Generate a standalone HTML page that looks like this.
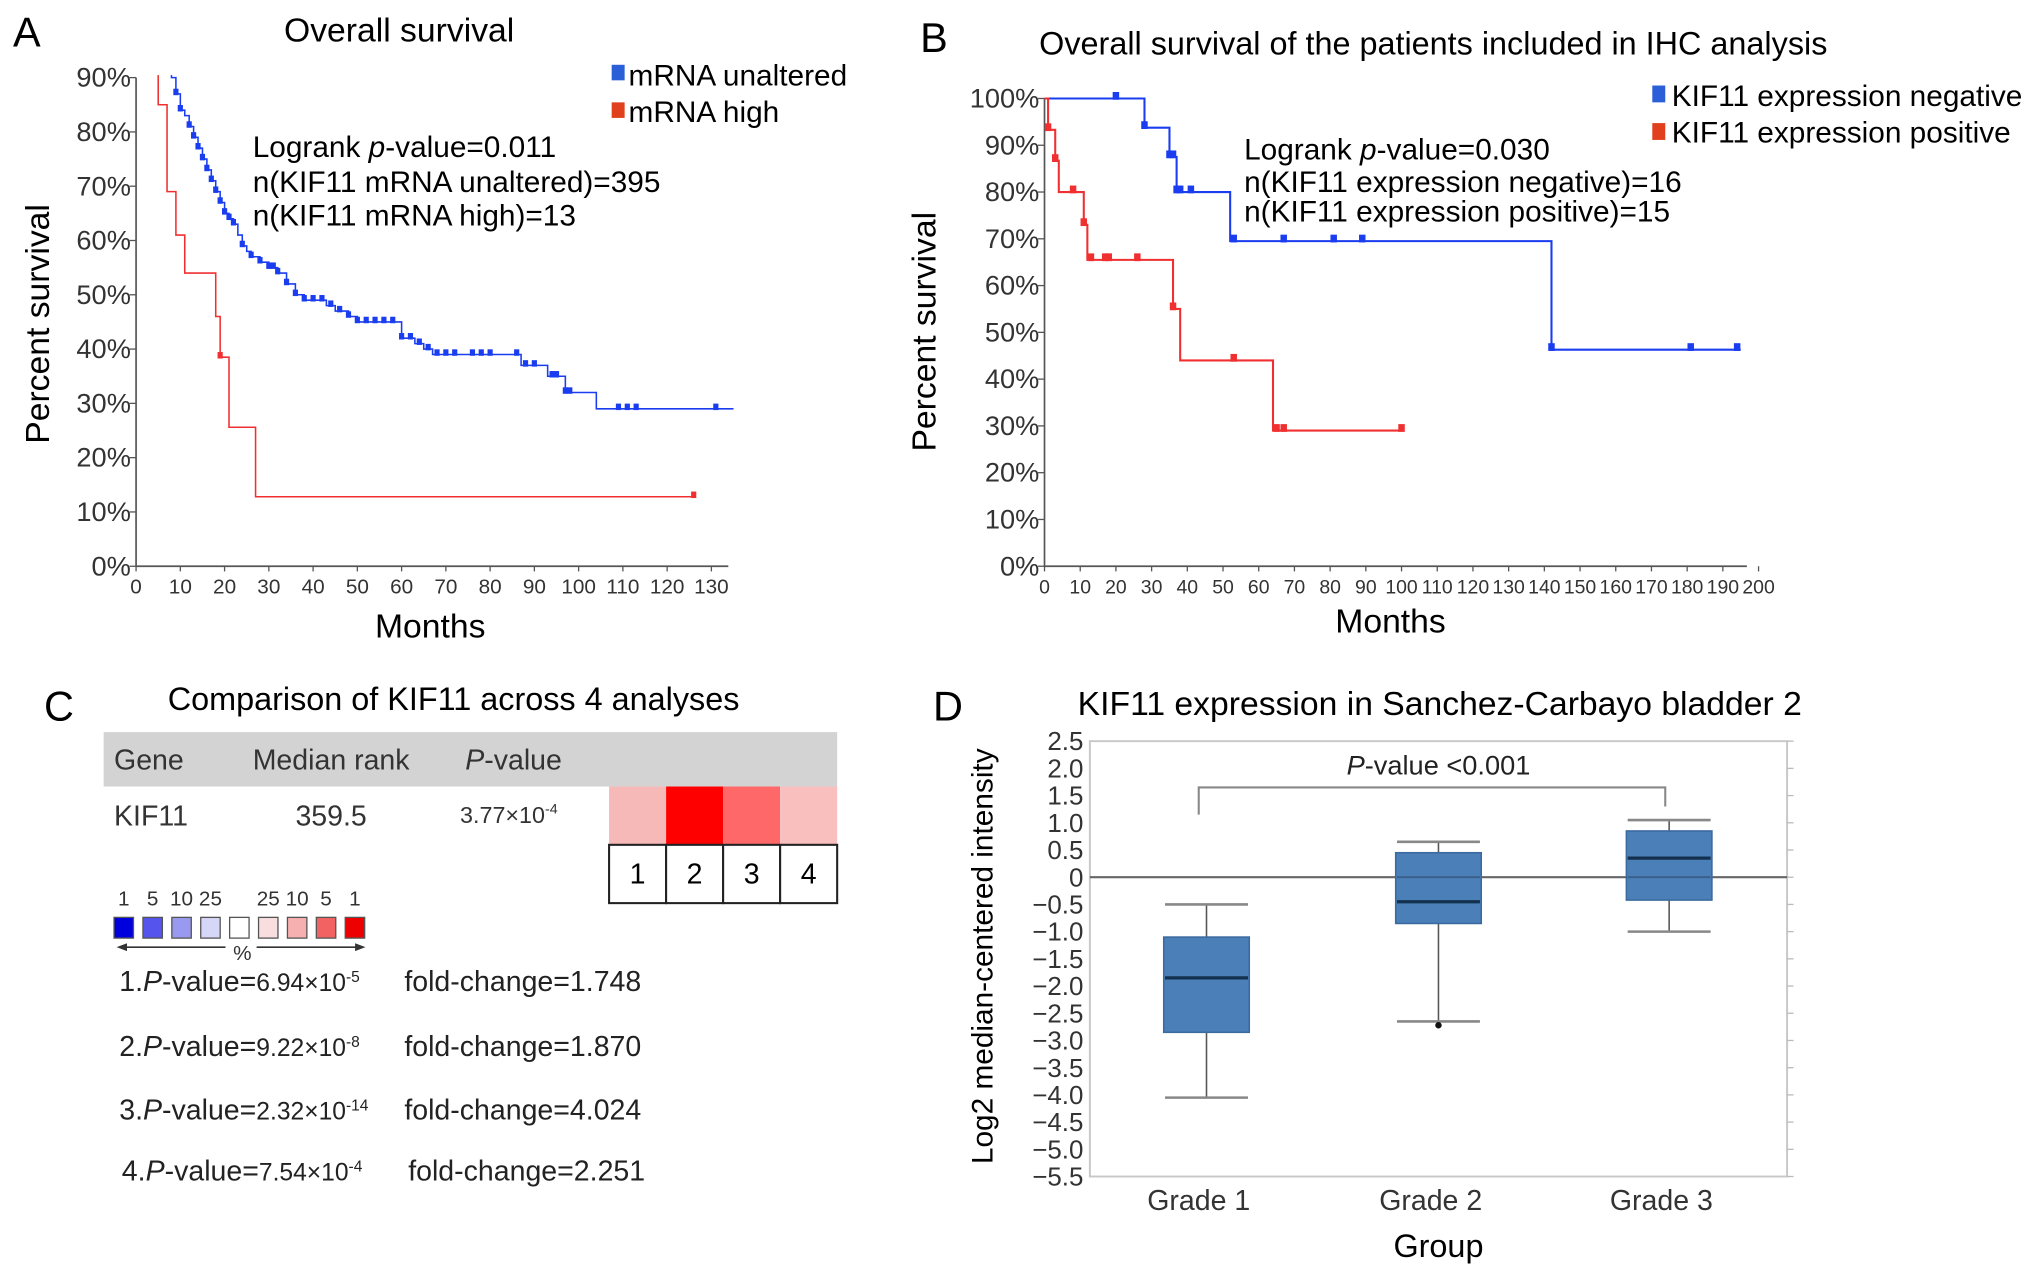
<!DOCTYPE html>
<html><head><meta charset="utf-8"><style>
html,body{margin:0;padding:0;background:#fff;}
svg{display:block;font-family:"Liberation Sans",Arial,sans-serif;}
</style></head><body>
<svg id="fig" width="2032" height="1275" viewBox="0 0 1568 984" preserveAspectRatio="none" xmlns="http://www.w3.org/2000/svg">
<defs><clipPath id="clipA"><rect x="100" y="58" width="470" height="390"/></clipPath></defs>
<rect width="1568" height="984" fill="#fff"/>
<!-- Panel A static text -->
<text x="10" y="36" font-size="32">A</text>
<text x="308" y="32" font-size="26" text-anchor="middle">Overall survival</text>
<rect x="472" y="50" width="10" height="12" fill="#2a5fd8"/>
<text x="485" y="66" font-size="23">mRNA unaltered</text>
<rect x="472" y="79" width="10" height="12" fill="#e0401c"/>
<text x="485" y="94" font-size="23">mRNA high</text>
<g font-size="23">
<text x="195" y="121">Logrank <tspan font-style="italic">p</tspan>-value=0.011</text>
<text x="195" y="148">n(KIF11 mRNA unaltered)=395</text>
<text x="195" y="174">n(KIF11 mRNA high)=13</text>
</g>
<text x="38" y="250" font-size="26" text-anchor="middle" transform="rotate(-90 38 250)">Percent survival</text>
<text x="332" y="492" font-size="26" text-anchor="middle">Months</text>
<g id="ga"></g>

<!-- Panel B static -->
<text x="710" y="40" font-size="32">B</text>
<text x="1106" y="42" font-size="25" text-anchor="middle">Overall survival of the patients included in IHC analysis</text>
<rect x="1275" y="66" width="10" height="13" fill="#2a5fd8"/>
<text x="1290" y="82" font-size="23">KIF11 expression negative</text>
<rect x="1275" y="95" width="10" height="13" fill="#e0401c"/>
<text x="1290" y="110" font-size="23">KIF11 expression positive</text>
<g font-size="23">
<text x="960" y="123">Logrank <tspan font-style="italic">p</tspan>-value=0.030</text>
<text x="960" y="148">n(KIF11 expression negative)=16</text>
<text x="960" y="171">n(KIF11 expression positive)=15</text>
</g>
<text x="722" y="256" font-size="26" text-anchor="middle" transform="rotate(-90 722 256)">Percent survival</text>
<text x="1073" y="488" font-size="26" text-anchor="middle">Months</text>
<g id="gb"></g>

<!-- Panel C -->
<text x="34" y="556" font-size="32">C</text>
<text x="350" y="548" font-size="25" text-anchor="middle">Comparison of KIF11 across 4 analyses</text>
<rect x="80" y="565" width="566" height="42" fill="#d3d3d3"/>
<g font-size="22" fill="#333">
<text x="88" y="594">Gene</text>
<text x="195" y="594">Median rank</text>
<text x="359" y="594"><tspan font-style="italic">P</tspan>-value</text>
<text x="88" y="637">KIF11</text>
<text x="228" y="637">359.5</text>
<text x="355" y="635" font-size="18">3.77×10<tspan dy="-7" font-size="11">-4</tspan></text>
</g>
<g id="gc"></g>
<g font-size="22" fill="#222">
<text x="92" y="765">1.<tspan font-style="italic">P</tspan>-value=<tspan font-size="19">6.94×10</tspan><tspan dy="-7" font-size="12">-5</tspan><tspan dy="7" x="312">fold-change=1.748</tspan></text>
<text x="92" y="815">2.<tspan font-style="italic">P</tspan>-value=<tspan font-size="19">9.22×10</tspan><tspan dy="-7" font-size="12">-8</tspan><tspan dy="7" x="312">fold-change=1.870</tspan></text>
<text x="92" y="864">3.<tspan font-style="italic">P</tspan>-value=<tspan font-size="19">2.32×10</tspan><tspan dy="-7" font-size="12">-14</tspan><tspan dy="7" x="312">fold-change=4.024</tspan></text>
<text x="94" y="911">4.<tspan font-style="italic">P</tspan>-value=<tspan font-size="19">7.54×10</tspan><tspan dy="-7" font-size="12">-4</tspan><tspan dy="7" x="315">fold-change=2.251</tspan></text>
</g>

<!-- Panel D -->
<text x="720" y="556" font-size="32">D</text>
<text x="1111" y="552" font-size="26" text-anchor="middle">KIF11 expression in Sanchez-Carbayo bladder 2</text>
<text x="766" y="738" font-size="23" text-anchor="middle" transform="rotate(-90 766 738)">Log2 median-centered intensity</text>
<text x="1110" y="970" font-size="25" text-anchor="middle">Group</text>
<g id="gd"></g>
</svg>
<script>
var NS="http://www.w3.org/2000/svg";
function mk(parent,tag,attrs){var e=document.createElementNS(NS,tag);for(var k in attrs)e.setAttribute(k,attrs[k]);parent.appendChild(e);return e;}

// ---------- Panel A data ----------
var aTicksY=[0,10,20,30,40,50,60,70,80,90];
var aTicksX=[0,10,20,30,40,50,60,70,80,90,100,110,120,130];
var aBlueT=[8,9,10,11,12,13,14,15,16,17,18,19,20,21,22,23,24,25,26,28,30,32,34,36,38,40,43,45,48,50,55,60,63,65,67,86,87,92,93,95,97,104,135];
var aBlueS=[90,87,84,83,81,79,77,75,73,71,69,67,65,64,63,61,59,58,57,56,55,54,52,50,49,49,48,47,46,45,45,42,41,40,39,39,37,37,35,35,32,29,29];
var aBlueCT=[9,10,12,13,14,15,16,17,18,19,20,21,22,24,26,28,30,31,32,34,36,38,40,42,44,46,48,50,52,54,56,58,60,62,64,66,68,70,72,76,78,80,86,88,90,94,95,97,98,109,111,113,131];
var aRedT=[5,7,9,11,18,19,21,27,126];
var aRedS=[85,69,61,54,46,38.5,25.6,12.8,12.8];
var aRedCT=[19,126];

// ---------- Panel B data ----------
var bTicksY=[0,10,20,30,40,50,60,70,80,90,100];
var bTicksX=[0,10,20,30,40,50,60,70,80,90,100,110,120,130,140,150,160,170,180,190,200];
var bBlueT=[0,28,35,37,52,142,195];
var bBlueS=[100,93.75,87.5,80,69.5,46.3,46.3];
var bBlueCT=[20,28,35,36,37,38,41,53,67,81,89,142,181,194];
var bRedT=[0,1,3,4,11,12,36,38,64,100];
var bRedS=[100,93.3,86.7,80,73,65.5,55,44,29,29];
var bRedCT=[1,3,8,11,13,17,18,26,36,53,65,67,100];

// ---------- Panel C data ----------
var cHeatLabels=["1","2","3","4"];
var cHeatColors=["#f7b8b8","#ff0000","#ff6868","#f9bfbf"];
var cLegendLabels=["1","5","10","25","","25","10","5","1"];
var cLegendColors=["#0000dd","#5555ee","#9999f0","#d6d6f8","#ffffff","#f8dede","#f7b0b0","#f26262","#ee0000"];

// ---------- Panel D data ----------
var dGroups=["Grade 1","Grade 2","Grade 3"];
var dMax=[-0.5,0.65,1.05];
var dQ3=[-1.1,0.45,0.85];
var dMed=[-1.85,-0.45,0.35];
var dQ1=[-2.85,-0.85,-0.42];
var dMin=[-4.05,-2.65,-1.0];
var dTicks=[2.5,2.0,1.5,1.0,0.5,0,-0.5,-1.0,-1.5,-2.0,-2.5,-3.0,-3.5,-4.0,-4.5,-5.0,-5.5];

function kmPanel(g,cfg){
  var X=function(t){return cfg.x0+t*cfg.xs;}, Y=function(s){return cfg.y0-s*cfg.ys;};
  var ax=mk(g,'path',{d:'M'+cfg.x0+' '+Y(cfg.ymax)+' V'+cfg.y0+' H'+cfg.xend,stroke:'#555','stroke-width':1.3,fill:'none'});
  
  
  cfg.ty.forEach(function(v){
    mk(g,'line',{x1:cfg.x0-5,x2:cfg.x0,y1:Y(v),y2:Y(v),stroke:'#555'});
    var t=mk(g,'text',{x:cfg.x0-4,y:Y(v)+7,'font-size':cfg.fy,'text-anchor':'end',fill:'#333'});
    t.textContent=v+'%';
    
    
  });
  cfg.tx.forEach(function(v){
    mk(g,'line',{x1:X(v),x2:X(v),y1:cfg.y0,y2:cfg.y0+4,stroke:'#555'});
    var t=mk(g,'text',{x:X(v),y:cfg.y0+21,'font-size':cfg.fx,'text-anchor':'middle',fill:'#333'});
    t.textContent=v;
    
    
  });
  var sg=mk(g,'g',{});
  if(cfg.clip) sg.setAttribute('clip-path','url(#'+cfg.clip+')');
  cfg.series.forEach(function(s){
    var d='M'+X(s.t[0])+' '+Y(s.start);
    for(var i=0;i<s.t.length;i++){d+=' H'+X(s.t[i])+' V'+Y(s.s[i]);}
    var p=mk(sg,'path',{d:d,stroke:s.c,'stroke-width':cfg.lw,fill:'none'});
    
    
    s.ct.forEach(function(ct){
      var sv=s.start;
      for(var i=0;i<s.t.length;i++){if(s.t[i]<=ct)sv=s.s[i];}
      var m=mk(sg,'rect',{x:X(ct)-cfg.mw/2,y:Y(sv)-cfg.mh,width:cfg.mw,height:cfg.mh+1,fill:s.c});
      
      
    });
  });
}
kmPanel(document.getElementById('ga'),{id:'a',clip:'clipA',x0:105,xs:3.415,y0:437,ys:4.19,ymax:90,xend:562,ty:aTicksY,tx:aTicksX,fy:21,fx:16,lw:1.2,mw:4,mh:4,
  series:[{name:'curve-mrna-unaltered',c:'#1a3df0',t:aBlueT,s:aBlueS,start:100,ct:aBlueCT},
          {name:'curve-mrna-high',c:'#f03030',t:aRedT,s:aRedS,start:100,ct:aRedCT}]});
kmPanel(document.getElementById('gb'),{id:'b',x0:806,xs:2.755,y0:437,ys:3.61,ymax:100,xend:1348,ty:bTicksY,tx:bTicksX,fy:21,fx:15,lw:1.6,mw:5,mh:5,
  series:[{name:'curve-expression-negative',c:'#1a3df0',t:bBlueT,s:bBlueS,start:100,ct:bBlueCT},
          {name:'curve-expression-positive',c:'#f03030',t:bRedT,s:bRedS,start:100,ct:bRedCT}]});

// Panel C drawing
(function(){
  var g=document.getElementById('gc');
  cHeatLabels.forEach(function(l,i){
    var x=470+i*44;
    var c=mk(g,'rect',{x:x,y:607,width:44,height:45,fill:cHeatColors[i]});
    
    
    var b=mk(g,'rect',{x:x,y:652,width:44,height:45,fill:'#fff',stroke:'#222','stroke-width':1.6});
    
    
    var t=mk(g,'text',{x:x+22,y:682,'font-size':22,'text-anchor':'middle'});
    t.textContent=l;
    
    
  });
  cLegendColors.forEach(function(col,i){
    var x=88+i*22.3;
    var r=mk(g,'rect',{x:x,y:708,width:15,height:16,fill:col,stroke:'#555','stroke-width':1});
    
    
    var t=mk(g,'text',{x:x+7.5,y:699,'font-size':16,'text-anchor':'middle',fill:'#333'});
    t.textContent=cLegendLabels[i];
    
    
  });
  mk(g,'line',{x1:96,x2:174,y1:731,y2:731,stroke:'#333','stroke-width':1.3});
  mk(g,'path',{d:'M90 731 L98 728 L98 734Z',fill:'#333'});
  mk(g,'line',{x1:198,x2:276,y1:731,y2:731,stroke:'#333','stroke-width':1.3});
  mk(g,'path',{d:'M282 731 L274 728 L274 734Z',fill:'#333'});
  var p=mk(g,'text',{x:187,y:741,'font-size':16,'text-anchor':'middle',fill:'#333'});
  p.textContent='%';
  
  
})();

// Panel D drawing
(function(){
  var g=document.getElementById('gd');
  var L=841,R=1379,T=572,B=908;
  var Y=function(v){return T+(2.5-v)*(B-T)/8;};
  var X=function(i){return [931,1110,1288][i];};
  var fr=mk(g,'rect',{x:L,y:T,width:R-L,height:B-T,fill:'none',stroke:'#c8c8c8','stroke-width':1.5});
  
  
  dTicks.forEach(function(v){
    mk(g,'line',{x1:R,x2:R+5,y1:Y(v),y2:Y(v),stroke:'#bbb'});
    var t=mk(g,'text',{x:L-5,y:Y(v)+7,'font-size':20,'text-anchor':'end',fill:'#333'});
    t.textContent=(v===0?'0':(v<0?'\u2212'+(-v).toFixed(1):v.toFixed(1)));
    
    
  });
  var z=mk(g,'line',{x1:L,x2:R,y1:Y(0),y2:Y(0),stroke:'#666','stroke-width':1.6});
  
  
  var hw=32;
  dGroups.forEach(function(name,i){
    var cx=X(i);
    mk(g,'line',{x1:cx,x2:cx,y1:Y(dMax[i]),y2:Y(dMin[i]),stroke:'#555','stroke-width':1.2});
    mk(g,'line',{x1:cx-hw,x2:cx+hw,y1:Y(dMax[i]),y2:Y(dMax[i]),stroke:'#888','stroke-width':2});
    mk(g,'line',{x1:cx-hw,x2:cx+hw,y1:Y(dMin[i]),y2:Y(dMin[i]),stroke:'#888','stroke-width':2});
    var b=mk(g,'rect',{x:cx-hw-1,y:Y(dQ3[i]),width:2*hw+2,height:Y(dQ1[i])-Y(dQ3[i]),fill:'#4a7fb8',stroke:'#3a6a9e','stroke-width':1.2});
    
    
    mk(g,'line',{x1:cx-hw,x2:cx+hw,y1:Y(0),y2:Y(0),stroke:'#3a5f88','stroke-width':1.4,'stroke-opacity':(dQ3[i]>0&&dQ1[i]<0)?1:0});
    var m=mk(g,'line',{x1:cx-hw,x2:cx+hw,y1:Y(dMed[i]),y2:Y(dMed[i]),stroke:'#14304f','stroke-width':2.5});
    
    
    var t=mk(g,'text',{x:cx-6,y:934,'font-size':22,'text-anchor':'middle',fill:'#333'});
    t.textContent=name;
    
    
  });
  mk(g,'circle',{cx:X(1),cy:Y(-2.72),r:2.5,fill:'#111'});
  var br=mk(g,'path',{d:'M'+(X(0)-6)+' '+Y(1.15)+' V'+Y(1.65)+' H'+(X(2)-3)+' V'+Y(1.3),stroke:'#888','stroke-width':1.6,fill:'none'});
  
  
  var pt=mk(g,'text',{x:1110,y:Y(2.05)+7,'font-size':21,'text-anchor':'middle',fill:'#222'});
  pt.innerHTML='<tspan font-style="italic">P</tspan>-value &lt;0.001';
  
  
})();
</script>
</body></html>
